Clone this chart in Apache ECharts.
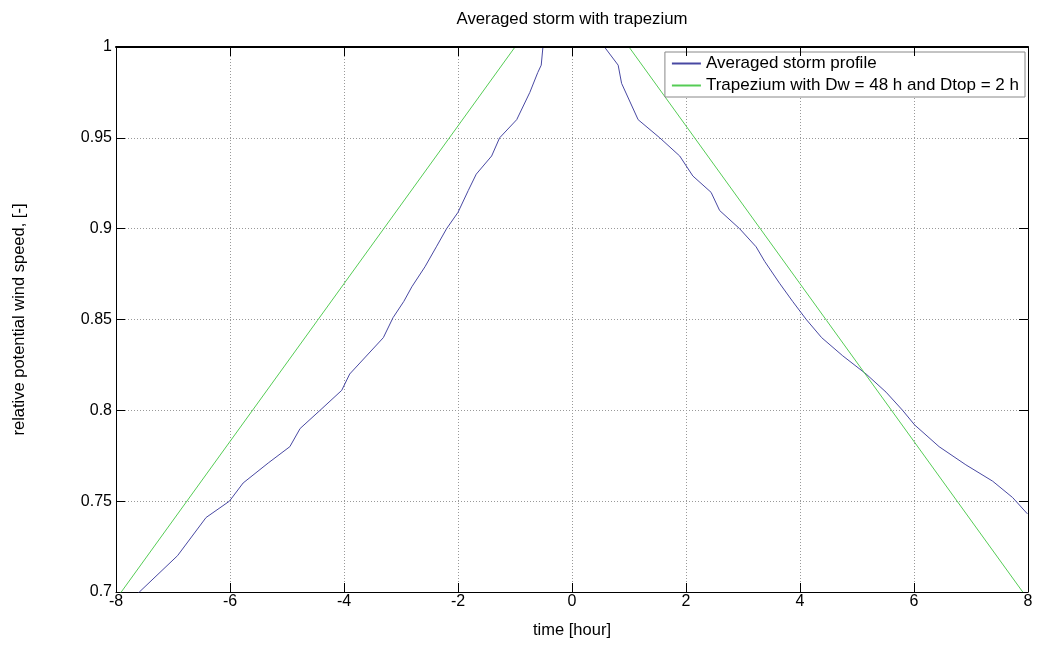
<!DOCTYPE html>
<html>
<head>
<meta charset="utf-8">
<script src="https://cdn.jsdelivr.net/npm/echarts@6/dist/echarts.min.js"></script>
<style>
  html, body { margin: 0; padding: 0; background: #fff; }
  #main { width: 1038px; height: 650px; }
</style>
</head>
<body>
<div id="main"></div>
<script>
var chartDom = document.getElementById('main');
var myChart = echarts.init(chartDom);
var option;

// averaged storm profile
var stormTime = [-8, -7.59, -6.92, -6.42, -6.01, -5.77, -5.33, -4.95, -4.77, -4.42, -4.04, -3.9,
  -3.31, -3.14, -2.95, -2.81, -2.58, -2.38, -2.2, -2.0, -1.82, -1.68, -1.41, -1.27, -0.97,
  -0.74, -0.6, -0.54, -0.51, -0.4, 0.45, 0.57, 0.81, 0.87, 1.16, 1.54, 1.89, 2.12, 2.44, 2.59,
  2.94, 3.23, 3.38, 3.64, 3.87, 4.11, 4.38, 4.75, 5.16, 5.51, 5.8, 6.01, 6.44, 6.91, 7.38,
  7.73, 7.99];
var stormSpeed = [0.688, 0.700, 0.720, 0.741, 0.750, 0.760, 0.771, 0.780, 0.790, 0.800, 0.811, 0.820,
  0.840, 0.851, 0.860, 0.868, 0.879, 0.890, 0.900, 0.909, 0.921, 0.930, 0.940, 0.950, 0.960,
  0.975, 0.986, 0.990, 1.000, 1.010, 1.010, 1.000, 0.990, 0.980, 0.960, 0.950, 0.940, 0.929, 0.920, 0.910,
  0.900, 0.890, 0.882, 0.870, 0.860, 0.850, 0.840, 0.830, 0.820, 0.810, 0.800, 0.792, 0.780, 0.770, 0.761,
  0.752, 0.743];

// trapezium, Dw = 48 h, Dtop = 2 h
var trapTime = [-8, -1, 1, 8];
var trapSpeed = [0.696, 1, 1, 0.696];

var names = ['Averaged storm profile', 'Trapezium with Dw = 48 h and Dtop = 2 h'];

function pairs(xs, ys) {
  return xs.map(function (x, i) { return [x, ys[i]]; });
}

var font = 'Arial, "Liberation Sans", Helvetica, sans-serif';
var gridLine = { show: true, lineStyle: { color: '#999', type: [1, 2], width: 1 } };
var tick = { show: true, inside: true, length: 9, lineStyle: { color: '#000' } };
var line = { show: true, onZero: false, lineStyle: { color: '#000', width: 1 } };
var topLine = { show: true, onZero: false, lineStyle: { color: '#000', width: 2 } };

option = {
  animation: false,
  backgroundColor: '#fff',
  title: {
    text: 'Averaged storm with trapezium',
    left: 567,
    top: 6,
    textAlign: 'center',
    textStyle: { fontFamily: font, fontSize: 16.8, fontWeight: 'normal', color: '#000' }
  },
  legend: {
    orient: 'vertical',
    right: 13,
    top: 52,
    padding: [3, 6, 3, 6],
    itemGap: 5,
    itemWidth: 29,
    itemHeight: 14,
    backgroundColor: '#fff',
    borderColor: '#888',
    borderWidth: 1,
    itemStyle: { opacity: 0 },
    textStyle: { fontFamily: font, fontSize: 17, color: '#000' },
    data: names
  },
  grid: { left: 116, right: 10, top: 47, bottom: 58 },
  xAxis: [
    {
      type: 'value', position: 'bottom', min: -8, max: 8, interval: 2,
      name: 'time [hour]', nameLocation: 'middle', nameGap: 30,
      nameTextStyle: { fontFamily: font, fontSize: 16.5, color: '#000' },
      axisLine: line, axisTick: tick, splitLine: gridLine,
      axisLabel: { fontFamily: font, fontSize: 16, color: '#000', margin: 2 }
    },
    {
      type: 'value', position: 'top', min: -8, max: 8, interval: 2, z: 5,
      axisLine: topLine, axisTick: tick, splitLine: { show: false }, axisLabel: { show: false }
    }
  ],
  yAxis: [
    {
      type: 'value', position: 'left', min: 0.7, max: 1, interval: 0.05,
      name: 'relative potential wind speed, [-]', nameLocation: 'middle', nameGap: 88,
      nameTextStyle: { fontFamily: font, fontSize: 16.5, color: '#000' },
      axisLine: line, axisTick: tick, splitLine: gridLine,
      axisLabel: { fontFamily: font, fontSize: 16, color: '#000', margin: 4 }
    },
    {
      type: 'value', position: 'right', min: 0.7, max: 1, interval: 0.05, z: 5,
      axisLine: line, axisTick: tick, splitLine: { show: false }, axisLabel: { show: false }
    }
  ],
  series: [
    {
      name: names[0],
      type: 'line',
      symbol: 'none',
      clip: true,
      data: pairs(stormTime, stormSpeed),
      lineStyle: { color: '#4848a2', width: 1 },
      itemStyle: { color: '#4848a2' }
    },
    {
      name: names[1],
      type: 'line',
      symbol: 'none',
      clip: true,
      data: pairs(trapTime, trapSpeed),
      lineStyle: { color: '#55cc55', width: 1 },
      itemStyle: { color: '#55cc55' }
    }
  ]
};

option && myChart.setOption(option);
</script>
</body>
</html>
